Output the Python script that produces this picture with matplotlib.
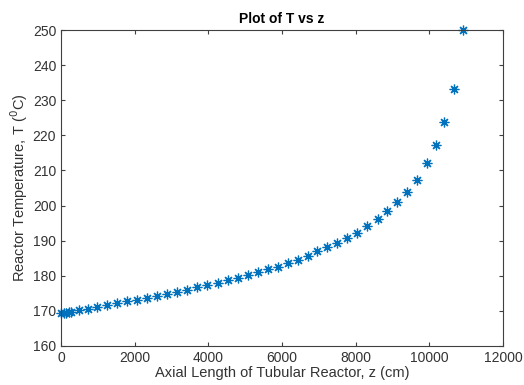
import matplotlib
matplotlib.use("Agg")
import matplotlib.pyplot as plt

# axial position (cm) and reactor temperature (degC)
z = [0, 73, 145, 209, 270, 500, 736, 982, 1236, 1509, 1782, 2055, 2327, 2600,
     2873, 3145, 3418, 3691, 3964, 4255, 4527, 4800, 5073, 5345, 5618, 5891,
     6164, 6436, 6697, 6960, 7222, 7494, 7766, 8046, 8318, 8598, 8861, 9123,
     9386, 9666, 9937, 10182, 10408, 10662, 10907]
T = [169.3, 169.4, 169.5, 169.6, 169.7, 170.2, 170.6, 171.0, 171.6, 172.2,
     172.7, 173.2, 173.7, 174.3, 174.9, 175.5, 176.0, 176.7, 177.3, 178.0,
     178.8, 179.3, 180.1, 181.0, 181.8, 182.6, 183.5, 184.6, 185.7, 187.0,
     188.1, 189.3, 190.8, 192.3, 194.1, 196.3, 198.4, 201.0, 203.8, 207.4,
     212.1, 217.3, 223.7, 233.2, 250.0]

xticks = [0, 2000, 4000, 6000, 8000, 10000, 12000]
yticks = [160, 170, 180, 190, 200, 210, 220, 230, 240, 250]

plt.rcParams['font.family'] = ['Liberation Sans', 'DejaVu Sans']
axcol = '#404040'

fig = plt.figure(figsize=(5.24, 3.85), dpi=100)
ax = fig.add_axes([0.1164, 0.1013, 0.8436, 0.8207])
# MATLAB-style '*' marker: 8 spokes
ax.plot(z, T, linestyle='none', marker=(8, 2, 0), markersize=7,
        markeredgewidth=0.9, color='#0072BD', clip_on=False)

ax.set_xlim(0, 12000)
ax.set_ylim(160, 250)
ax.set_xticks(xticks)
ax.set_yticks(yticks)
ax.tick_params(direction='in', top=True, right=True, length=3, width=0.8,
               colors=axcol, labelsize=10, labelcolor='#333333')
for s in ax.spines.values():
    s.set_color(axcol)
    s.set_linewidth(0.8)

ax.set_title('Plot of T vs z', fontsize=10, fontweight='bold', pad=5)
ax.set_xlabel('Axial Length of Tubular Reactor, z (cm)', fontsize=10.5,
              color='#333333', labelpad=1)
ax.set_ylabel('Reactor Temperature, T ($^{0}$C)', fontsize=10.5,
              color='#333333', labelpad=2)

fig.savefig('out.png', dpi=100)
